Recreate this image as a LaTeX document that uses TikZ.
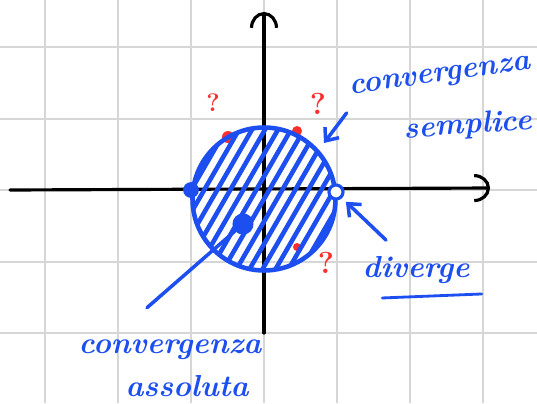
\documentclass[tikz,border=0pt]{standalone}
\usepackage{tikz}
\usetikzlibrary{positioning,calc,arrows.meta}
\definecolor{inkblue}{RGB}{28,78,240}
\definecolor{inkred}{RGB}{250,48,48}
\definecolor{gridgray}{RGB}{214,214,214}
\tikzset{GRID/.style={gridgray, line width=1.1pt}}
\tikzset{AXIS/.style={line width=1.8pt, line cap=round, -{Arc Barb[length=9pt,width=16pt,line width=1.8pt]}}}
\tikzset{INK/.style={inkblue, line width=2pt, line cap=round}}
\tikzset{POINTER/.style={INK, -{Straight Barb[length=6pt,width=10pt,line width=2pt]}}}
\tikzset{DISK/.style={circle, draw=inkblue, line width=2.6pt, minimum size=2.86cm, inner sep=0pt}}
\tikzset{DOT/.style={circle, fill=inkblue, inner sep=0pt, minimum size=9pt}}
\tikzset{OPEN/.style={circle, draw=inkblue, fill=white, line width=1.8pt, inner sep=0pt, minimum size=8pt}}
\tikzset{NOTE/.style={inkblue, font=\LARGE\bfseries\itshape, inner sep=0pt}}
\tikzset{QUERY/.style={inkred, font=\Large\bfseries, inner sep=0pt}}

\begin{document}
\begin{tikzpicture}[x=0.02cm,y=-0.02cm]

\useasboundingbox (0,0) rectangle (537,403);
\fill[white] (0,0) rectangle (537,403);

% grid paper
\foreach \gx in {45,118,191,264,337,410,483}
  \draw[GRID] (\gx,0) -- (\gx,403);
\foreach \gy in {47,119,190,262,333}
  \draw[GRID] (0,\gy) -- (537,\gy);

% axes
\coordinate (c_x_start) at (10,190);
\coordinate (c_x_end) at (490,188);
\coordinate (c_y_start) at (264,333);
\coordinate (c_y_end) at (264,12);
\draw[AXIS] (c_x_start) -- (c_x_end);
\draw[AXIS] (c_y_start) -- (c_y_end);

% red doubtful points on the border
\fill[inkred] (228,137) circle [radius=6];
\fill[inkred] (297,131) circle [radius=5];
\fill[inkred] (297,247) circle [radius=4];

% disk of convergence
\coordinate (c_center) at (264,199);
\begin{scope}
  \clip (c_center) circle [radius=70];
  \foreach \s in {-130,-117,...,130}
    \draw[INK, line width=2.6pt] ($(c_center)+(\s,0)+(-60,104)$) -- ++(120,-208);
\end{scope}
\node[DISK] (n_disk) at (c_center) {};

\node[DOT] (n_left) at (191,190) {};
\node[DOT, minimum size=12pt] (n_inner) at (243,224) {};
\node[OPEN] (n_right) at (336,192) {};

\node[QUERY] (n_q_left) at (213,103) {?};
\node[QUERY, font=\LARGE\bfseries] (n_q_right) at (318,104) {?};
\node[QUERY, font=\LARGE\bfseries] (n_q_below) at (326,263) {?};

% labels
\node[NOTE, rotate=8] (n_simple_a) at (440,78) {convergenza};
\node[NOTE, rotate=4] (n_simple_b) at (468,126) {semplice};
\coordinate (c_simple_tip) at (324,143);
\draw[POINTER] ($(n_simple_a.south west)+(-4,12)$) -- (c_simple_tip);

\node[NOTE] (n_diverge) at (416,270) {diverge};
\draw[INK, line width=1.6pt] ($(n_diverge.south west)+(20,14)$) -- ($(n_diverge.south east)+(12,10)$);
\draw[POINTER, shorten >=3pt] ($(n_diverge.north)+(-30,-16)$) -- (n_right.south east);

\node[NOTE] (n_absolute_a) at (170,350) {convergenza};
\node[NOTE] (n_absolute_b) at (187,386) {assoluta};
\coordinate (c_absolute_tail) at ($(n_absolute_a.north)+(-23,-32)$);
\draw[INK] (n_inner) -- (c_absolute_tail);

\end{tikzpicture}
\end{document}
